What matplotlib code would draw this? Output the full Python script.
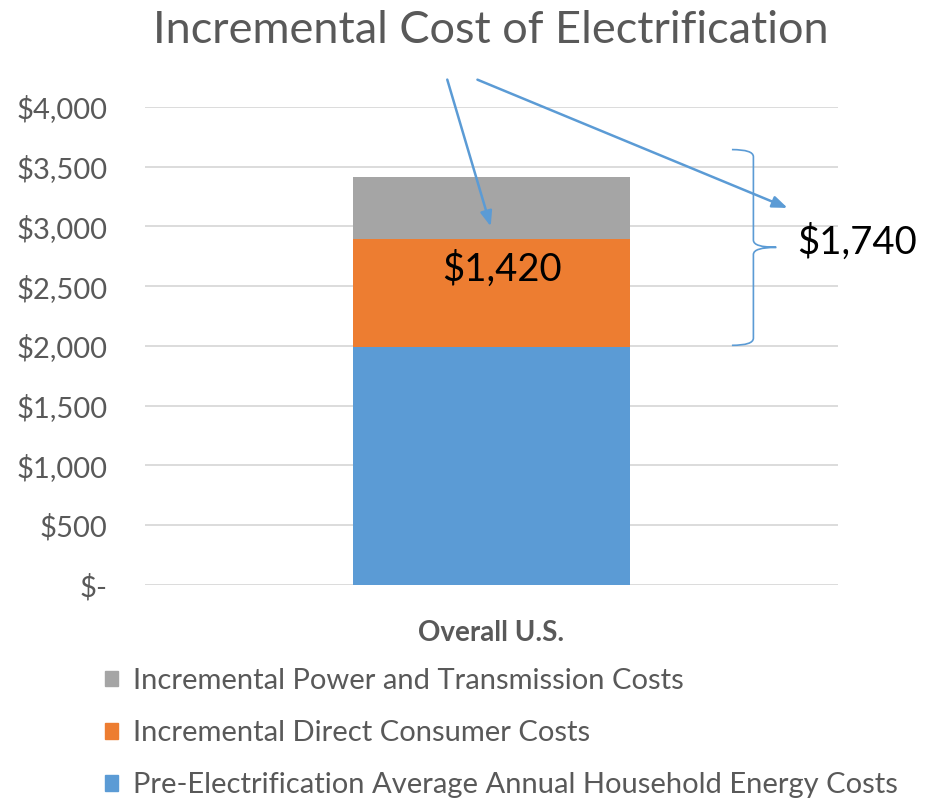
import matplotlib
matplotlib.use('Agg')
import matplotlib.pyplot as plt
from matplotlib.patches import Patch, PathPatch
from matplotlib.path import Path

plt.rcParams['font.family'] = ['Lato', 'DejaVu Sans']

categories = ["Overall U.S."]
series = [
    "Pre-Electrification Average Annual Household Energy Costs",
    "Incremental Direct Consumer Costs",
    "Incremental Power and Transmission Costs",
]
values = [[1990], [905], [515]]
colors = ["#5B9BD5", "#ED7D31", "#A5A5A5"]
yticks = [0, 500, 1000, 1500, 2000, 2500, 3000, 3500, 4000]
ytick_labels = ["$-", "$500", "$1,000", "$1,500", "$2,000", "$2,500", "$3,000", "$3,500", "$4,000"]

GREY = "#595959"
ARROW = "#5B9BD5"

fig = plt.figure(figsize=(9.3, 7.98), dpi=100)
ax = fig.add_axes([0.156, 0.267, 0.745, 0.599])

bottom = [0] * len(categories)
for name, vals, c in zip(series, values, colors):
    ax.bar(categories, vals, bottom=bottom, width=0.4, color=c, label=name, zorder=2)
    bottom = [b + v for b, v in zip(bottom, vals)]

ax.set_xlim(-0.5, 0.5)
ax.set_ylim(0, 4000)
ax.set_yticks(yticks)
ax.set_yticklabels(ytick_labels)
ax.grid(axis='y', color="#D9D9D9", linewidth=1.3, zorder=0)
for s in ax.spines.values():
    s.set_visible(False)
ax.tick_params(axis='y', length=0, labelsize=21, labelcolor=GREY, pad=27)
ax.tick_params(axis='x', length=0, labelsize=20, labelcolor=GREY, pad=25)
for t in ax.get_xticklabels():
    t.set_fontweight('bold')

fig.text(0.528, 0.962, "Incremental Cost of Electrification", ha='center', va='center',
         fontsize=32.5, color=GREY)

# annotations: x in axes fraction, y in data
tr = ax.get_yaxis_transform()
arrow_style = dict(arrowstyle="-|>,head_length=0.9,head_width=0.35", color=ARROW, lw=1.8)
ax.annotate("", xy=(0.500, 2978), xytext=(0.435, 4251), xycoords=tr, textcoords=tr,
            arrowprops=arrow_style, annotation_clip=False, zorder=5)
ax.annotate("", xy=(0.931, 3146), xytext=(0.476, 4237), xycoords=tr, textcoords=tr,
            arrowprops=arrow_style, annotation_clip=False, zorder=5)

# curly brace
bx0, bx1, bx2 = 0.847, 0.878, 0.911
ytop, ymid, ybot = 3643, 2825, 2005
codes = [Path.MOVETO, Path.CURVE3, Path.CURVE3, Path.LINETO,
         Path.LINETO, Path.CURVE3, Path.CURVE3,
         Path.MOVETO, Path.CURVE3, Path.CURVE3,
         Path.LINETO, Path.CURVE3, Path.CURVE3]
verts = [(bx0, ytop), (bx1, ytop), (bx1, ytop - 60),
         (bx1, ymid + 60), (bx1, ymid + 60), (bx1, ymid), (bx2, ymid),
         (bx2, ymid), (bx1, ymid), (bx1, ymid - 60),
         (bx1, ybot + 60), (bx1, ybot), (bx0, ybot)]
ax.add_patch(PathPatch(Path(verts, codes), transform=tr, fill=False, edgecolor=ARROW,
                       lw=1.2, clip_on=False, zorder=5))

ax.text(0.515, 2643, "$1,420", transform=tr, ha='center', va='center', fontsize=27.5,
        color='black', zorder=6)
ax.text(0.941, 2870, "$1,740", transform=tr, ha='left', va='center', fontsize=27.5,
        color='black', clip_on=False, zorder=6)

handles = [Patch(color=c) for c in colors][::-1]
labels = series[::-1]
fig.legend(handles, labels, loc='upper left', bbox_to_anchor=(0.113, 0.163),
           frameon=False, fontsize=21, labelcolor=GREY, handlelength=0.45, handleheight=0.45,
           handletextpad=0.5, labelspacing=0.9, borderpad=0, borderaxespad=0)

fig.savefig("out.png", dpi=100)
